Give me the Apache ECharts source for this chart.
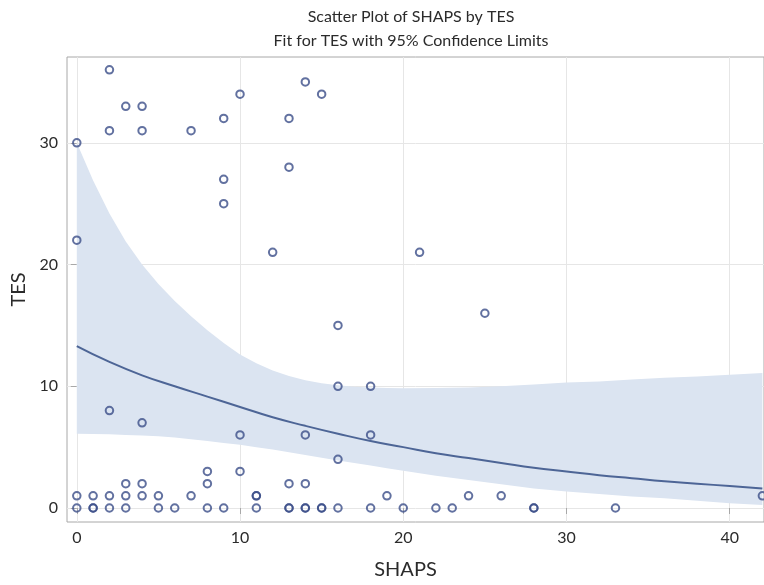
<!DOCTYPE html>
<html>
<head>
<meta charset="utf-8">
<script src="https://cdn.jsdelivr.net/npm/echarts@6/dist/echarts.min.js"></script>
<style>
html,body{margin:0;padding:0;background:#fff;}
#chart{width:764px;height:585px;}
</style>
</head>
<body>
<div id="chart"></div>
<script>
// Observations (SHAPS, TES)
const shaps = [0,0,0,0, 1,1,1, 2,2,2,2,2, 3,3,3,3, 4,4,4,4,4, 5,5, 6, 7,7, 8,8,8, 9,9,9,9, 10,10,10, 11,11,11, 12, 13,13,13,13,13, 14,14,14,14,14, 15,15,15, 16,16,16,16, 18,18,18, 19, 20, 21, 22, 23, 24, 25, 26, 28,28, 33, 42];
const tes   = [30,22,1,0, 1,0,0, 36,31,8,1,0, 33,2,1,0, 33,31,7,2,1, 1,0, 0, 31,1, 3,2,0, 32,27,25,0, 34,6,3, 1,1,0, 21, 32,28,2,0,0, 35,6,2,0,0, 34,0,0, 15,10,4,0, 10,6,0, 1, 0, 21, 0, 0, 1, 16, 1, 0,0, 0, 1];

// Fitted curve
const fitX = [0,2,4,6,8,10,12,14,16,18,20,22,24,26,28,30,32,34,36,38,40,42];
const fitY = [13.3,12.0,10.9,10.0,9.15,8.3,7.45,6.75,6.1,5.5,5.0,4.5,4.1,3.7,3.3,3.0,2.7,2.45,2.2,2.0,1.8,1.6];

// 95% confidence limits
const clX     = [0,1,2,3,4,5,6,7,8,9,10,11,12,13,14,15,16,17,18,19,20,22,24,26,28,30,32,34,36,38,40,42];
const upperCL = [30.0,26.9,24.2,21.9,20.0,18.4,17.0,15.75,14.6,13.55,12.6,11.9,11.3,10.85,10.5,10.25,10.08,9.97,9.9,9.86,9.84,9.85,9.9,10.0,10.15,10.3,10.4,10.55,10.7,10.8,10.95,11.1];
const lowerCL = [6.1,6.08,6.05,6.0,5.95,5.9,5.8,5.65,5.5,5.35,5.2,5.0,4.8,4.58,4.35,4.12,3.9,3.7,3.5,3.27,3.05,2.65,2.3,1.95,1.6,1.35,1.15,0.95,0.8,0.6,0.4,0.25];

const xTicks = [0,10,20,30,40];
const yTicks = [0,10,20,30];

const FONT = 'Lato, "Liberation Sans", Arial, sans-serif';
const TXT = '#2b2b2b';
const FRAME = '#a8a8a8';

const chart = echarts.init(document.getElementById('chart'), null, {renderer:'canvas'});
chart.setOption({
  backgroundColor: '#ffffff',
  animation: false,
  textStyle: {fontFamily: FONT},
  title: {
    text: 'Scatter Plot of SHAPS by TES\nFit for TES with 95% Confidence Limits',
    left: 406,
    textAlign: 'center',
    top: 0,
    textStyle: {fontFamily: FONT, fontSize: 16, fontWeight: 'normal', color: TXT, lineHeight: 24}
  },
  grid: {
    left: 67, top: 57, right: -2, bottom: 63,
    show: true, borderColor: FRAME, borderWidth: 1, backgroundColor: 'transparent'
  },
  xAxis: {
    type: 'value', min: -0.6, max: 42.1,
    name: 'SHAPS', nameLocation: 'middle', nameGap: 38,
    nameTextStyle: {fontFamily: FONT, fontSize: 20, color: TXT, padding: [0, 20, 0, 0]},
    axisLine: {show: false},
    axisTick: {show: true, inside: false, length: 6, customValues: xTicks, lineStyle: {color: FRAME}},
    axisLabel: {customValues: xTicks, fontFamily: FONT, fontSize: 16, color: TXT, margin: 8},
    splitLine: {show: true, lineStyle: {color: '#e6e6e6', width: 1}}
  },
  yAxis: {
    type: 'value', min: -1.15, max: 37.05,
    name: 'TES', nameLocation: 'middle', nameGap: 36, nameRotate: 90,
    nameTextStyle: {fontFamily: FONT, fontSize: 20, color: TXT},
    axisLine: {show: false},
    axisTick: {show: true, inside: false, length: 6, customValues: yTicks, lineStyle: {color: FRAME}},
    axisLabel: {customValues: yTicks, fontFamily: FONT, fontSize: 16, color: TXT, margin: 9},
    splitLine: {show: true, lineStyle: {color: '#e6e6e6', width: 1}}
  },
  series: [
    {
      type: 'custom',
      name: '95% CL',
      silent: true,
      clip: true,
      z: 1,
      data: [[clX[0], upperCL[0]]],
      renderItem: function (params, api) {
        const pts = [];
        for (let i = 0; i < clX.length; i++) pts.push(api.coord([clX[i], upperCL[i]]));
        for (let i = clX.length - 1; i >= 0; i--) pts.push(api.coord([clX[i], lowerCL[i]]));
        return {
          type: 'polygon',
          shape: {points: pts},
          style: {fill: '#dbe4f1', stroke: null}
        };
      }
    },
    {
      type: 'line',
      name: 'Fit',
      z: 2,
      smooth: true,
      showSymbol: false,
      silent: true,
      clip: true,
      data: fitX.map((x, i) => [x, fitY[i]]),
      lineStyle: {color: '#4d6596', width: 2}
    },
    {
      type: 'scatter',
      name: 'TES',
      z: 3,
      clip: false,
      symbol: 'circle',
      symbolSize: 7.5,
      data: shaps.map((x, i) => [x, tes[i]]),
      itemStyle: {color: 'rgba(255,255,255,0)', borderColor: '#3b4e88', borderWidth: 2}
    }
  ]
});
</script>
</body>
</html>
